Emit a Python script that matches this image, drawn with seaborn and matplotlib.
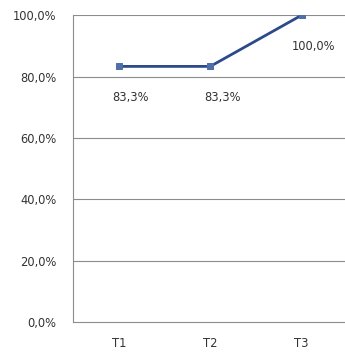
import pandas as pd
import numpy as np
import seaborn as sns
import matplotlib.pyplot as plt
from matplotlib.ticker import FixedLocator

sns.set_style('white')
plt.rcParams['font.family'] = ['DejaVu Sans']

categories = ['T1', 'T2', 'T3']
values = [83.3, 83.3, 100.0]
y_ticks = [0, 20, 40, 60, 80, 100]
y_labels = ['0,0%', '20,0%', '40,0%', '60,0%', '80,0%', '100,0%']

df = pd.DataFrame({'cat': categories, 'pos': np.arange(len(categories)), 'val': values})

fig = plt.figure(figsize=(3.45, 3.52), dpi=100)
ax = fig.add_axes([0.212, 0.085, 0.795, 0.872])

for y in y_ticks[1:]:
    ax.axhline(y, color='#8c8c8c', lw=0.8, zorder=0)

sns.lineplot(data=df, x='pos', y='val', ax=ax, color='#2c4a8a', lw=2.0,
             marker='s', markersize=5, markerfacecolor='#4f6fa8',
             markeredgecolor='#4f6fa8', zorder=3)

# data labels sit below-right of each point
for p, v in zip(df['pos'], df['val']):
    ax.annotate(f'{v:.1f}%'.replace('.', ','), (p, v), xytext=(12, -31),
                textcoords='offset pixels',
                ha='center', va='center', fontsize=8.3, color='#333333')

ax.set_xlim(-0.5, 2.5)
ax.set_ylim(0, 100)
ax.set_xticks(df['pos'])
ax.set_xticklabels(categories)
ax.xaxis.set_minor_locator(FixedLocator([0.5, 1.5]))
ax.tick_params(axis='x', which='major', length=0, pad=11, labelsize=8.3, colors='#333333')
ax.tick_params(axis='x', which='minor', length=3, color='#8c8c8c', direction='out')
ax.set_yticks(y_ticks)
ax.set_yticklabels(y_labels)
ax.tick_params(axis='y', length=0, pad=12, labelsize=8.3, colors='#333333')
ax.set_xlabel('')
ax.set_ylabel('')

for s in ['top', 'right']:
    ax.spines[s].set_visible(False)
for s in ['left', 'bottom']:
    ax.spines[s].set_color('#8c8c8c')
    ax.spines[s].set_linewidth(0.8)

fig.savefig('out.png', dpi=100)
